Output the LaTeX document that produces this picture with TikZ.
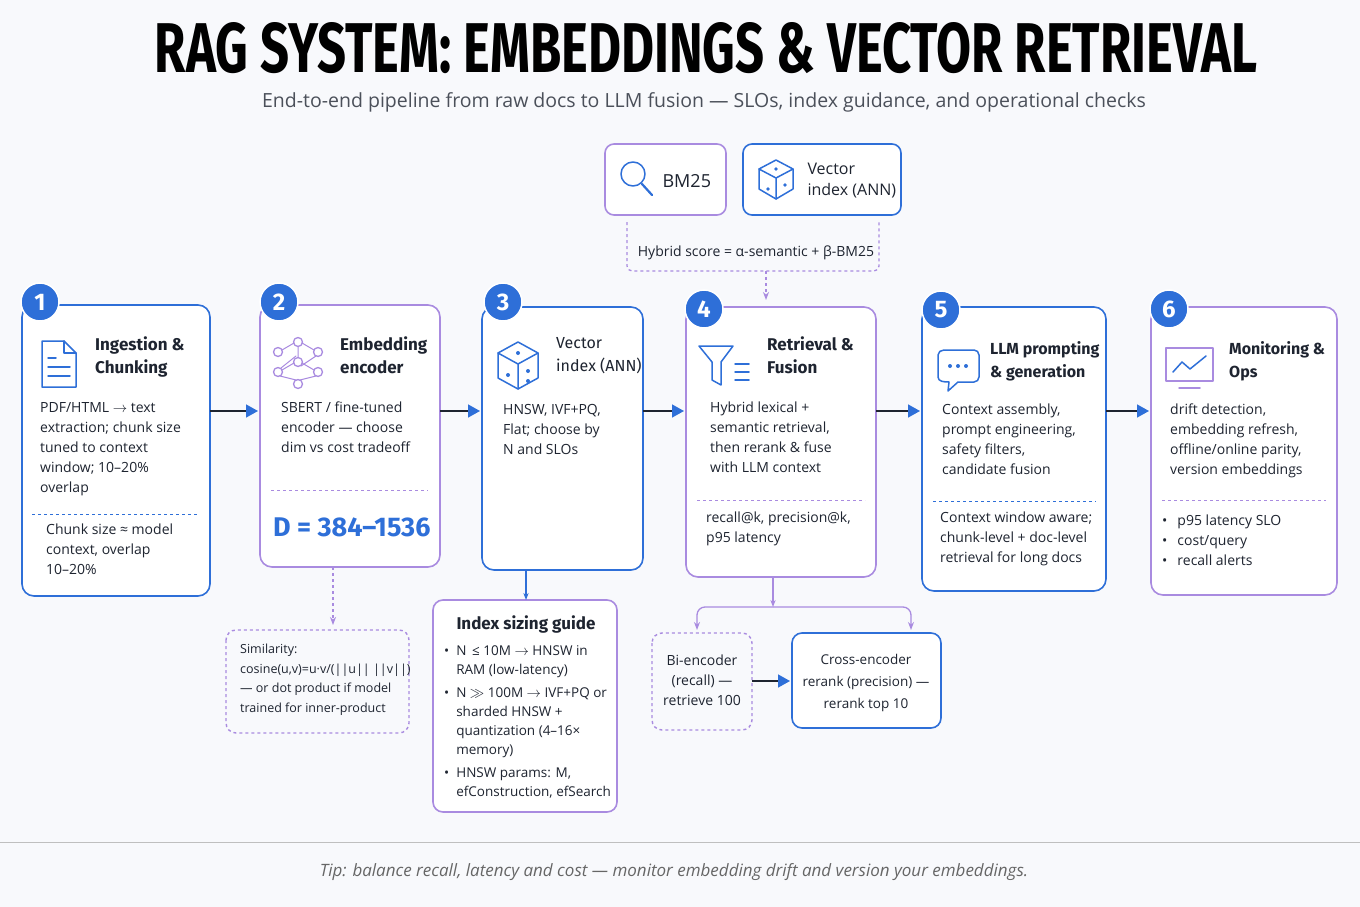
\documentclass[tikz,border=0pt]{standalone}
\usepackage{fontspec}
\setmainfont{Open Sans}
\newfontfamily\headfont{Fira Sans}
\usetikzlibrary{arrows.meta,positioning,calc}
\definecolor{cblue}{HTML}{2E6FD8}
\definecolor{cpurple}{HTML}{A98BE0}
\definecolor{ink}{HTML}{1E2430}
\definecolor{bgc}{HTML}{F8F9FC}
\tikzset{
  stage/.style={draw=#1, line width=1.6pt, rounded corners=12pt, fill=white},
  badge/.style={circle, fill=cblue, draw=white, line width=1.5pt, minimum size=38pt, inner sep=0pt, text=white, font=\headfont\bfseries\fontsize{24}{24}\selectfont},
  head/.style={anchor=north west, align=left, inner sep=0pt, font=\headfont\bfseries\fontsize{17}{23}\selectfont, text=ink},
  body/.style={anchor=north west, align=left, inner sep=0pt, font=\fontsize{14}{20}\selectfont, text=ink},
  sep/.style={draw=#1, dashed, line width=0.9pt},
  flow/.style={draw=ink, line width=1.5pt, -{Triangle[length=12pt,width=13pt,color=cblue]}},
  sub/.style={draw=cpurple, line width=1.3pt, -{Stealth[length=8pt]}},
  icon/.style={draw=#1, line width=1.5pt, line join=round, line cap=round},
}
\begin{document}
\begin{tikzpicture}[x=1pt,y=-1pt]
\fill[bgc] (0,0) rectangle (1360,907);
\useasboundingbox (0,0) rectangle (1360,907);

% title
\node (title) at (706,48) {\resizebox{1102pt}{50pt}{\headfont\bfseries RAG SYSTEM: EMBEDDINGS \& VECTOR RETRIEVAL}};
\node[text=ink!80, font=\fontsize{19.5}{21}\selectfont] (subtitle) at (704,102) {End-to-end pipeline from raw docs to LLM fusion — SLOs, index guidance, and operational checks};

% stage boxes
\draw[stage=cblue] (22,305) rectangle (210,596);
\draw[stage=cpurple] (260,305) rectangle (440,567);
\draw[stage=cblue] (482,307) rectangle (643,570);
\draw[stage=cpurple] (686,307) rectangle (876,577);
\draw[stage=cblue] (922,307) rectangle (1106,591);
\draw[stage=cpurple] (1151,307) rectangle (1337,595);
\coordinate (b1r) at (210,411); \coordinate (b2l) at (258,411);
\coordinate (b2r) at (440,411); \coordinate (b3l) at (480,411);
\coordinate (b3r) at (643,411); \coordinate (b4l) at (684,411);
\coordinate (b4r) at (876,411); \coordinate (b5l) at (920,411);
\coordinate (b5r) at (1106,411); \coordinate (b6l) at (1149,411);

% badges
\node[badge] (n1) at (40,302) {1};
\node[badge] (n2) at (279,302) {2};
\node[badge] (n3) at (503,302) {3};
\node[badge] (n4) at (704,309) {4};
\node[badge] (n5) at (941,310) {5};
\node[badge] (n6) at (1169,309) {6};

% stage 1
\draw[icon=cblue] (42,341) -- (64,341) -- (76,353) -- (76,387) -- (42,387) -- cycle;
\draw[icon=cblue] (64,341) -- (64,353) -- (76,353);
\draw[icon=cblue] (48,358) -- (56,358) (48,367) -- (70,367) (48,376) -- (70,376);
\node[head] (h1) at (95,337) {Ingestion \&\\Chunking};
\node[body] (t1) at (40,402) {PDF/HTML $\to$ text\\extraction; chunk size\\tuned to context\\window; 10–20\%\\overlap};
\draw[sep=cblue] (32,514) -- (198,514);
\node[body] (f1) at (46,524) {Chunk size ≈ model\\context, overlap\\10–20\%};

% stage 2
\foreach \a/\b in {278/352, 298/342, 318/352, 278/372, 298/362, 318/372, 298/384}
  \draw[icon=cpurple, line width=1.3pt] (\a,\b) circle (4.5pt);
\draw[icon=cpurple, line width=1pt] (282,350)--(294,343) (302,343)--(314,350) (282,370)--(294,363) (302,363)--(314,370) (298,347)--(298,357) (301,366)--(316,356) (281,368)--(296,356) (300,380)--(316,376) (296,380)--(280,376);
\node[head] (h2) at (340,337) {Embedding\\encoder};
\node[body] (t2) at (281,402) {SBERT / fine-tuned\\encoder — choose\\dim vs cost tradeoff};
\draw[sep=cpurple] (271,490) -- (428,490);
\node[text=cblue, font=\headfont\bfseries\fontsize{27}{27}\selectfont, anchor=west, inner sep=0pt] (dim) at (273,527) {D = 384–1536};

% stage 3
\draw[icon=cblue] (518,342) -- (538,353) -- (538,378) -- (518,389) -- (498,378) -- (498,353) -- cycle;
\draw[icon=cblue] (498,353) -- (518,364) -- (538,353) (518,364) -- (518,389);
\fill[cblue] (518,353) circle (2pt) (508,375) circle (2pt) (528,371) circle (2pt) (528,381) circle (2pt);
\node[head, font=\headfont\fontsize{16}{23}\selectfont] (h3) at (556,337) {Vector\\index (ANN)};
\node[body] (t3) at (503,404) {HNSW, IVF+PQ,\\Flat; choose by\\N and SLOs};

% stage 4
\draw[icon=cblue] (699,346) -- (733,346) -- (721,362) -- (721,385) -- (712,380) -- (712,362) -- cycle;
\draw[icon=cblue] (735,364) -- (749,364) (735,372) -- (749,372) (735,380) -- (749,380);
\node[head] (h4) at (767,337) {Retrieval \&\\Fusion};
\node[body] (t4) at (710,402) {Hybrid lexical +\\semantic retrieval,\\then rerank \& fuse\\with LLM context};
\draw[sep=cpurple] (697,500) -- (865,500);
\node[body] (f4) at (706,512) {recall@k, precision@k,\\p95 latency};

% stage 5
\draw[icon=cblue] (944,350) -- (974,350) to[out=0,in=90] (979,355) -- (979,377) to[out=-90,in=0] (974,382) -- (958,382) -- (948,391) -- (949,382) to[out=180,in=-90] (938,377) -- (938,355) to[out=90,in=180] (944,350);
\fill[cblue] (950,366) circle (2pt) (958,366) circle (2pt) (966,366) circle (2pt);
\node[head, font=\headfont\bfseries\fontsize{16}{23}\selectfont] (h5) at (990,341) {LLM prompting\\\& generation};
\node[body] (t5) at (942,404) {Context assembly,\\prompt engineering,\\safety filters,\\candidate fusion};
\draw[sep=cblue] (933,501) -- (1096,501);
\node[body] (f5) at (940,512) {Context window aware;\\chunk-level + doc-level\\retrieval for long docs};

% stage 6
\draw[icon=cpurple] (1166,348) rectangle (1213,381);
\draw[icon=cpurple] (1179,388) -- (1200,388);
\draw[icon=cblue] (1173,372) -- (1182,362) -- (1190,369) -- (1206,356);
\node[head, font=\headfont\bfseries\fontsize{16}{23}\selectfont] (h6) at (1229,341) {Monitoring \&\\Ops};
\node[body] (t6) at (1170,404) {drift detection,\\embedding refresh,\\offline/online parity,\\version embeddings};
\draw[sep=cpurple] (1162,500) -- (1326,500);
\node[body] (f6) at (1162,515) {\textbullet\hspace{10pt}p95 latency SLO\\\textbullet\hspace{10pt}cost/query\\\textbullet\hspace{10pt}recall alerts};

% flow arrows
\foreach \p/\q in {b1r/b2l, b2r/b3l, b3r/b4l, b4r/b5l, b5r/b6l}
  \draw[flow] (\p) -- (\q);

% hybrid search inputs
\draw[stage=cpurple, rounded corners=9pt] (605,144) rectangle (726,215);
\draw[icon=cblue] (633,174) circle (12pt);
\draw[icon=cblue, line width=2.2pt] (642,184) -- (652,195);
\node[font=\fontsize{18}{20}\selectfont, text=ink, anchor=west] (bm) at (659,181) {BM25};
\draw[stage=cblue, rounded corners=9pt] (743,144) rectangle (901,215);
\draw[icon=cblue] (776,160) -- (793,169) -- (793,189) -- (776,199) -- (759,189) -- (759,169) -- cycle;
\draw[icon=cblue] (759,169) -- (776,178) -- (793,169) (776,178) -- (776,199);
\fill[cblue] (776,169) circle (1.8pt) (768,189) circle (1.8pt) (785,185) circle (1.8pt);
\node[font=\fontsize{16}{21}\selectfont, text=ink, anchor=west, align=left] (vi) at (804,181) {Vector\\index (ANN)};
\draw[draw=cpurple, dashed, line width=1.3pt, rounded corners=5pt] (627,222) -- (627,271) -- (879,271) -- (879,222);
\node[font=\fontsize{14}{16}\selectfont, text=ink] (hy) at (756,253) {Hybrid score = α-semantic + β-BM25};
\coordinate (hyb) at (766,271);
\draw[sub, dashed] (hyb) -- (766,300);

% below stage 2
\draw[draw=cpurple, dashed, line width=1.4pt, rounded corners=10pt] (226,630) rectangle (409,733);
\node[body, font=\fontsize{12.5}{19.5}\selectfont] (sim) at (240,644) {Similarity:\\cosine(u,v)=u·v/(||u|| ||v||)\\— or dot product if model\\trained for inner-product};
\draw[sub, dashed] (333,567) -- (333,625);

% below stage 3
\draw[stage=cpurple, rounded corners=10pt] (433,600) rectangle (617,812);
\node[font=\headfont\bfseries\fontsize{17}{20}\selectfont, text=ink] (ig) at (526,624) {Index sizing guide};
\node[body, font=\fontsize{13.5}{19}\selectfont] (igl) at (444,645) {\textbullet\ \ N \,≤ 10M $\to$ HNSW in\\\phantom{\textbullet\ \ }RAM (low-latency)\\[4pt]
\textbullet\ \ N $\gg$ 100M $\to$ IVF+PQ or\\\phantom{\textbullet\ \ }sharded HNSW +\\\phantom{\textbullet\ \ }quantization (4–16×\\\phantom{\textbullet\ \ }memory)\\[4pt]
\textbullet\ \ HNSW params: M,\\\phantom{\textbullet\ \ }efConstruction, efSearch};
\draw[draw=cblue, line width=1.3pt, -{Stealth[length=7pt]}] (526,570) -- (526,600);

% below stage 4
\draw[draw=cpurple, dashed, line width=1.4pt, rounded corners=10pt] (652,633) rectangle (752,730);
\node[font=\fontsize{14}{20}\selectfont, text=ink, align=center] (bi) at (702,680) {Bi-encoder\\(recall) —\\retrieve 100};
\draw[stage=cblue, rounded corners=10pt] (792,633) rectangle (941,728);
\node[font=\fontsize{13.5}{22}\selectfont, text=ink, align=center] (ce) at (866,683) {Cross-encoder\\rerank (precision) —\\rerank top 10};
\coordinate (bir) at (752,681); \coordinate (cel) at (790,681);
\draw[flow] (bir) -- (cel);
\draw[draw=cpurple, line width=1.3pt, -{Stealth[length=7pt]}] (773,577) -- (773,607);
\draw[sub, rounded corners=8pt] (773,607) -- (697,607) -- (697,630);
\draw[sub, rounded corners=8pt] (773,607) -- (911,607) -- (911,630);

% footer
\draw[black!25, line width=1pt] (0,842) -- (1360,842);
\node[font=\itshape\fontsize{17}{18}\selectfont, text=black!60] (tip) at (674,872) {Tip: balance recall, latency and cost — monitor embedding drift and version your embeddings.};
\end{tikzpicture}
\end{document}
